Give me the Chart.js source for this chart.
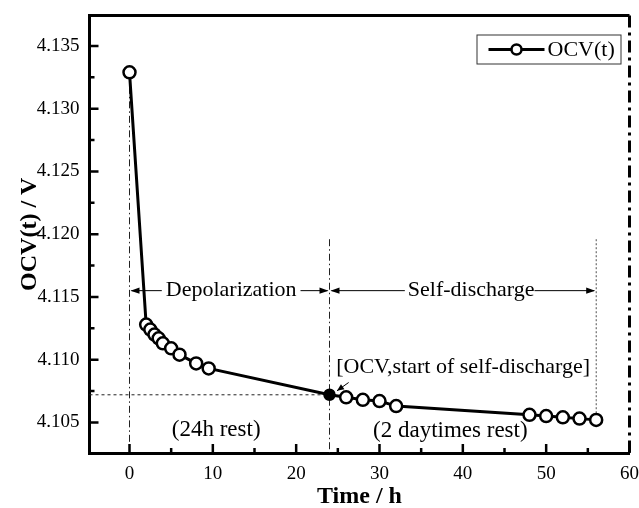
<!DOCTYPE html>
<html><head><meta charset="utf-8">
<script src="https://cdn.jsdelivr.net/npm/chart.js@4.4.0/dist/chart.umd.min.js"></script>
<style>html,body{margin:0;padding:0;background:#fff}#wrap{width:639px;height:508px;position:relative}</style>
</head><body><div id="wrap"><canvas id="c"></canvas></div>
<script>
// ---- data ----
const timeHours = [0, 2, 2.5, 3, 3.5, 4, 5, 6, 8, 9.5, 24, 26, 28, 30, 32, 48, 50, 52, 54, 56];
const ocvVolts  = [4.1329, 4.1128, 4.1124, 4.1120, 4.1117, 4.1113, 4.1109, 4.1104, 4.1097, 4.1093,
                   4.1072, 4.1070, 4.1068, 4.1067, 4.1063, 4.1056, 4.1055, 4.1054, 4.1053, 4.1052];
const seriesLabel = 'OCV(t)';
const selfDischargeStart = 24;      // h
const restEnd = 56;                 // h
const xTickValues = [0, 10, 20, 30, 40, 50, 60];
const xMinorValues = [5, 15, 25, 35, 45, 55];
const yTickValues = [4.105, 4.110, 4.115, 4.120, 4.125, 4.130, 4.135];
const yMinorValues = [4.1075, 4.1125, 4.1175, 4.1225, 4.1275, 4.1325];
const labels = {
  depol: 'Depolarization', self: 'Self-discharge',
  start: '[OCV,start of self-discharge]', rest24: '(24h rest)', rest2d: '(2 daytimes rest)'
};

const SERIF = '"Liberation Serif", "Times New Roman", serif';
const startOCV = ocvVolts[timeHours.indexOf(selfDischargeStart)];

function arrowHead(ctx, x, y, dir) {
  ctx.beginPath();
  ctx.moveTo(x, y);
  ctx.lineTo(x - dir * 9, y - 3.2);
  ctx.lineTo(x - dir * 9, y + 3.2);
  ctx.closePath();
  ctx.fill();
}

const refPlugin = {
  id: 'ref',
  beforeDatasetsDraw(chart) {
    const {ctx, chartArea: a, scales: {x, y}} = chart;
    ctx.save();
    ctx.strokeStyle = '#222';
    ctx.lineWidth = 1;
    ctx.setLineDash([7, 3, 1.5, 3]);
    ctx.beginPath();
    ctx.moveTo(x.getPixelForValue(0), y.getPixelForValue(ocvVolts[0]));
    ctx.lineTo(x.getPixelForValue(0), a.bottom);
    ctx.stroke();
    ctx.beginPath();
    ctx.moveTo(x.getPixelForValue(selfDischargeStart), y.getPixelForValue(4.1196));
    ctx.lineTo(x.getPixelForValue(selfDischargeStart), a.bottom);
    ctx.stroke();
    ctx.setLineDash([2, 2]);
    ctx.lineWidth = 0.8;
    ctx.beginPath();
    ctx.moveTo(x.getPixelForValue(restEnd), y.getPixelForValue(4.1196));
    ctx.lineTo(x.getPixelForValue(restEnd), y.getPixelForValue(ocvVolts[ocvVolts.length - 1]));
    ctx.stroke();
    ctx.lineWidth = 1;
    ctx.setLineDash([3, 3]);
    ctx.beginPath();
    ctx.moveTo(a.left, y.getPixelForValue(startOCV));
    ctx.lineTo(x.getPixelForValue(selfDischargeStart), y.getPixelForValue(startOCV));
    ctx.stroke();
    ctx.restore();
  },
  afterDatasetsDraw(chart) {
    const {ctx, chartArea: a, scales: {x, y}} = chart;
    ctx.save();
    ctx.fillStyle = '#000';
    ctx.strokeStyle = '#000';
    ctx.font = '22px ' + SERIF;
    ctx.textBaseline = 'middle';
    ctx.textAlign = 'center';
    const ay = y.getPixelForValue(4.1155);
    const x0 = x.getPixelForValue(0), x24 = x.getPixelForValue(selfDischargeStart), x56 = x.getPixelForValue(restEnd);
    ctx.lineWidth = 1;
    const dcx = x.getPixelForValue(12.2);
    ctx.fillText(labels.depol, dcx, ay);
    let w = ctx.measureText(labels.depol).width;
    ctx.beginPath(); ctx.moveTo(x0 + 2, ay); ctx.lineTo(dcx - w / 2 - 4, ay);
    ctx.moveTo(dcx + w / 2 + 4, ay); ctx.lineTo(x24 - 2, ay); ctx.stroke();
    arrowHead(ctx, x0 + 1, ay, -1);
    arrowHead(ctx, x24 - 1, ay, 1);
    const scx = x.getPixelForValue(41.0);
    ctx.fillText(labels.self, scx, ay);
    w = ctx.measureText(labels.self).width;
    ctx.beginPath(); ctx.moveTo(x24 + 2, ay); ctx.lineTo(scx - w / 2 - 3, ay);
    ctx.moveTo(scx + w / 2, ay); ctx.lineTo(x56 - 2, ay); ctx.stroke();
    arrowHead(ctx, x24 + 1, ay, -1);
    arrowHead(ctx, x56 - 1, ay, 1);
    ctx.textAlign = 'left';
    ctx.fillText(labels.start, x.getPixelForValue(24.8), y.getPixelForValue(4.1094));
    const sx1 = x.getPixelForValue(26.3), sy1 = y.getPixelForValue(4.10818);
    const sx2 = x.getPixelForValue(24.9), sy2 = y.getPixelForValue(4.10752);
    ctx.beginPath(); ctx.moveTo(sx1, sy1); ctx.lineTo(sx2, sy2); ctx.stroke();
    const ang = Math.atan2(sy2 - sy1, sx2 - sx1);
    ctx.beginPath();
    ctx.moveTo(sx2, sy2);
    ctx.lineTo(sx2 - 7 * Math.cos(ang) + 3 * Math.sin(ang), sy2 - 7 * Math.sin(ang) - 3 * Math.cos(ang));
    ctx.lineTo(sx2 - 7 * Math.cos(ang) - 3 * Math.sin(ang), sy2 - 7 * Math.sin(ang) + 3 * Math.cos(ang));
    ctx.closePath(); ctx.fill();
    ctx.textAlign = 'center';
    ctx.font = '23px ' + SERIF;
    ctx.fillText(labels.rest24, x.getPixelForValue(10.4), y.getPixelForValue(4.1044));
    ctx.fillText(labels.rest2d, x.getPixelForValue(38.5), y.getPixelForValue(4.1043));
    ctx.restore();
  },
  afterDraw(chart) {
    const {ctx, chartArea: a, scales: {x, y}} = chart;
    ctx.save();
    ctx.strokeStyle = '#000';
    ctx.lineWidth = 2.5;
    ctx.beginPath();
    xTickValues.forEach(v => { const px = x.getPixelForValue(v); ctx.moveTo(px, a.bottom); ctx.lineTo(px, a.bottom - 9); });
    xMinorValues.forEach(v => { const px = x.getPixelForValue(v); ctx.moveTo(px, a.bottom); ctx.lineTo(px, a.bottom - 5); });
    yTickValues.forEach(v => { const py = y.getPixelForValue(v); ctx.moveTo(a.left, py); ctx.lineTo(a.left + 9, py); });
    yMinorValues.forEach(v => { const py = y.getPixelForValue(v); ctx.moveTo(a.left, py); ctx.lineTo(a.left + 5, py); });
    ctx.stroke();
    ctx.lineWidth = 3;
    ctx.beginPath(); ctx.moveTo(a.left - 1.5, a.top); ctx.lineTo(a.right, a.top); ctx.stroke();
    ctx.setLineDash([12, 5, 3, 5]);
    ctx.beginPath(); ctx.moveTo(a.right, a.top); ctx.lineTo(a.right, a.bottom + 1.5); ctx.stroke();
    ctx.setLineDash([]);
    const bw = 144, bh = 29;
    const bx = a.right - 9 - bw, by = a.top + 19;
    ctx.lineWidth = 1;
    ctx.strokeStyle = '#333';
    ctx.strokeRect(bx + 0.5, by + 0.5, bw, bh);
    const ly = by + bh / 2 + 0.5;
    ctx.strokeStyle = '#000';
    ctx.lineWidth = 3;
    ctx.beginPath(); ctx.moveTo(bx + 12, ly); ctx.lineTo(bx + 68, ly); ctx.stroke();
    ctx.fillStyle = '#fff';
    ctx.lineWidth = 2.5;
    ctx.beginPath(); ctx.arc(bx + 40, ly, 5, 0, Math.PI * 2); ctx.fill(); ctx.stroke();
    ctx.fillStyle = '#000';
    ctx.font = '22px ' + SERIF;
    ctx.textBaseline = 'middle';
    ctx.textAlign = 'left';
    ctx.fillText(chart.data.datasets[0].label, bx + 71, ly + 1);
    ctx.restore();
  }
};

const points = timeHours.map((t, i) => ({x: t, y: ocvVolts[i]}));

new Chart(document.getElementById('c'), {
  type: 'scatter',
  data: {
    datasets: [{
      label: seriesLabel,
      data: points,
      showLine: true,
      borderColor: '#000',
      borderWidth: 3,
      pointRadius: timeHours.map(t => t === selfDischargeStart ? 5 : 6),
      pointBorderWidth: 2.5,
      pointBorderColor: '#000',
      pointBackgroundColor: timeHours.map(t => t === selfDischargeStart ? '#000' : '#fff'),
      tension: 0
    }]
  },
  options: {
    responsive: true,
    maintainAspectRatio: false,
    animation: false,
    layout: {padding: {top: 15.5, right: 9.5, left: 0, bottom: 0}},
    plugins: {legend: {display: false}, tooltip: {enabled: false}},
    scales: {
      x: {
        type: 'linear', min: -4.8, max: 60,
        grid: {display: false, drawTicks: false},
        border: {display: true, width: 3, color: '#000'},
        ticks: {font: {family: SERIF, size: 19}, color: '#000', padding: 10, maxRotation: 0, autoSkip: false},
        afterBuildTicks: s => { s.ticks = xTickValues.map(v => ({value: v})); },
        afterFit: s => { s.height = 55; s.paddingLeft = 0; s.paddingRight = 0; },
        title: {display: true, text: 'Time / h', color: '#000', font: {family: SERIF, size: 24, weight: 'bold'}, padding: {top: 0, bottom: -3}}
      },
      y: {
        type: 'linear', min: 4.10256, max: 4.13743,
        grid: {display: false, drawTicks: false},
        border: {display: true, width: 3, color: '#000'},
        ticks: {font: {family: SERIF, size: 19}, color: '#000', padding: 10, autoSkip: false,
                callback: v => Number(v).toFixed(3)},
        afterBuildTicks: s => { s.ticks = yTickValues.map(v => ({value: v})); },
        afterFit: s => { s.width = 89.5; s.paddingTop = 0; s.paddingBottom = 0; },
        title: {display: true, text: 'OCV(t) / V', color: '#000', font: {family: SERIF, size: 24, weight: 'bold'}, padding: {top: 15, bottom: 0}}
      }
    }
  },
  plugins: [refPlugin]
});
</script>
</body></html>
